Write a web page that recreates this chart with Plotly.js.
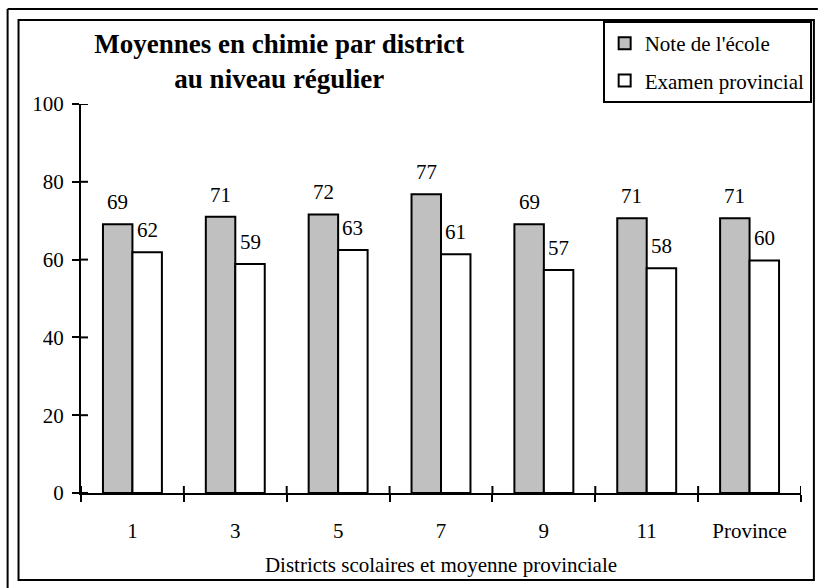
<!DOCTYPE html>
<html>
<head>
<meta charset="utf-8">
<script src="https://cdn.plot.ly/plotly-3.0.1.min.js"></script>
<style>html,body{margin:0;padding:0;background:#fff;}#chart{width:824px;height:588px;}</style>
</head>
<body>
<div id="chart"></div>
<script>
const categories = ['1', '3', '5', '7', '9', '11', 'Province'];
const schoolMarks = [69.1, 71.0, 71.6, 76.8, 69.1, 70.6, 70.6];
const examMarks = [61.9, 58.9, 62.5, 61.4, 57.3, 57.8, 59.8];
const schoolLabels = ['69', '71', '72', '77', '69', '71', '71'];
const examLabels = ['62', '59', '63', '61', '57', '58', '60'];
const seriesNames = ["Note de l'école", 'Examen provincial'];
const yTickValues = [0, 20, 40, 60, 80, 100];

const W = 824, H = 588;
const M = {l: 81, r: 17, t: 104, b: 95};
const pw = W - M.l - M.r, ph = H - M.t - M.b;
const px = v => (v - M.l) / pw;
const py = v => (H - M.b - v) / ph;

const serif = 'Liberation Serif, Times New Roman, serif';

const traces = [
  {type: 'bar', name: seriesNames[0], x: categories, y: schoolMarks, legendgroup: 'a',
   marker: {color: '#c0c0c0', line: {color: '#000', width: 2}}, hoverinfo: 'y'},
  {type: 'bar', name: seriesNames[1], x: categories, y: examMarks, legendgroup: 'b',
   marker: {color: '#ffffff', line: {color: '#000', width: 2}}, hoverinfo: 'y'}
];

const halfBar = 14.8;
const annotations = [];
categories.forEach((c, i) => {
  annotations.push({x: i, y: schoolMarks[i], text: schoolLabels[i], showarrow: false,
    xshift: -halfBar, yshift: 22, yanchor: 'middle', font: {family: serif, size: 21}});
  annotations.push({x: i, y: examMarks[i], text: examLabels[i], showarrow: false,
    xshift: halfBar, yshift: 22, yanchor: 'middle', font: {family: serif, size: 21}});
});

const shapes = [
  {type: 'rect', xref: 'paper', yref: 'paper', x0: px(18), x1: px(820), y0: py(580), y1: py(20),
   line: {color: '#000', width: 2}, layer: 'below'},
  {type: 'line', xref: 'paper', yref: 'paper', x0: px(7), x1: px(824), y0: py(9), y1: py(9),
   line: {color: '#000', width: 2}},
  {type: 'line', xref: 'paper', yref: 'paper', x0: px(7), x1: px(7), y0: py(9), y1: py(588),
   line: {color: '#000', width: 2}}
];
// inner halves of the crossing tick marks
yTickValues.forEach(v => {
  shapes.push({type: 'line', xref: 'x', xsizemode: 'pixel', xanchor: -0.5, x0: 0, x1: 7,
    yref: 'y', y0: v, y1: v, line: {color: '#000', width: 2}});
});
for (let i = 0; i <= categories.length; i++) {
  shapes.push({type: 'line', xref: 'x', x0: i - 0.5, x1: i - 0.5,
    yref: 'y', ysizemode: 'pixel', yanchor: 0, y0: 0, y1: 7, line: {color: '#000', width: 2}});
}

const layout = {
  width: W, height: H, margin: M,
  paper_bgcolor: '#fff', plot_bgcolor: '#fff',
  font: {family: serif, size: 21, color: '#000'},
  title: {text: 'Moyennes en chimie par district<br>au niveau régulier',
    font: {family: serif, size: 27, weight: 'bold'}, xref: 'paper', x: px(281), xanchor: 'center',
    yref: 'container', y: 1 - 52.5 / H, yanchor: 'middle'},
  barmode: 'group', bargap: 0.427, bargroupgap: 0,
  showlegend: true,
  legend: {x: px(607), y: py(21), xanchor: 'left', yanchor: 'top', bgcolor: '#fff',
    bordercolor: '#000', borderwidth: 2, font: {family: serif, size: 21}, itemwidth: 30,
    traceorder: 'grouped', tracegroupgap: 7},
  xaxis: {type: 'category', range: [-0.5, 6.5], showline: true, linecolor: '#000', linewidth: 2,
    ticks: 'outside', ticklen: 7, tickwidth: 2, tickcolor: '#000', tickson: 'boundaries',
    ticklabelstandoff: 18, showgrid: false, zeroline: false, fixedrange: true,
    tickfont: {family: serif, size: 21},
    title: {text: 'Districts scolaires et moyenne provinciale', font: {family: serif, size: 21}, standoff: 15}},
  yaxis: {range: [0, 100], tickvals: yTickValues, showline: true, linecolor: '#000', linewidth: 2,
    ticks: 'outside', ticklen: 7, tickwidth: 2, tickcolor: '#000', showgrid: false,
    tickfont: {family: serif, size: 21},
    zeroline: false, fixedrange: true, ticklabelstandoff: 4},
  annotations: annotations,
  shapes: shapes
};

Plotly.newPlot('chart', traces, layout, {displayModeBar: false, staticPlot: true});
</script>
</body>
</html>
